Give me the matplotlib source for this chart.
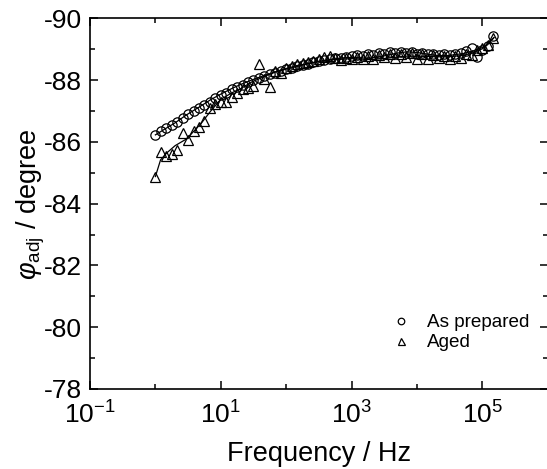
import matplotlib
matplotlib.use("Agg")
import matplotlib.pyplot as plt
from matplotlib.ticker import FixedLocator, NullFormatter

plt.rcParams['font.family'] = ['Liberation Sans', 'DejaVu Sans']
plt.rcParams['mathtext.fontset'] = 'custom'
plt.rcParams['mathtext.rm'] = 'Liberation Sans'
plt.rcParams['mathtext.it'] = 'Liberation Sans:italic'

# measured frequencies (Hz), same grid for both samples
freq = [1.00, 1.21, 1.47, 1.78, 2.15, 2.61, 3.16, 3.83, 4.64, 5.62, 6.81, 8.25,
        10.0, 12.1, 14.7, 17.8, 21.5, 26.1, 31.6, 38.3, 46.4, 56.2, 68.1, 82.5,
        100, 121, 147, 178, 215, 261, 316, 383, 464, 562, 681, 825,
        1000, 1210, 1470, 1780, 2150, 2610, 3160, 3830, 4640, 5620, 6810, 8250,
        10000, 12100, 14700, 17800, 21500, 26100, 31600, 38300, 46400, 56200, 68100, 82500,
        100000, 121000, 147000]

phi_prepared = [-86.23, -86.35, -86.45, -86.55, -86.66, -86.78, -86.90, -87.00, -87.10, -87.20, -87.30, -87.42,
                -87.52, -87.60, -87.70, -87.78, -87.86, -87.93, -88.00, -88.07, -88.13, -88.19, -88.25, -88.30,
                -88.35, -88.40, -88.45, -88.50, -88.54, -88.58, -88.62, -88.65, -88.68, -88.71, -88.73, -88.76,
                -88.78, -88.82, -88.80, -88.85, -88.82, -88.88, -88.86, -88.90, -88.88, -88.92, -88.88, -88.90,
                -88.86, -88.88, -88.84, -88.86, -88.82, -88.85, -88.83, -88.86, -88.88, -88.95, -89.04, -88.76,
                -88.98, -89.12, -89.42]

phi_aged = [-84.88, -85.69, -85.55, -85.62, -85.75, -86.28, -86.06, -86.35, -86.50, -86.68, -87.10, -87.22,
            -87.28, -87.30, -87.45, -87.58, -87.70, -87.75, -87.80, -88.53, -88.05, -87.79, -88.30, -88.25,
            -88.40, -88.46, -88.53, -88.57, -88.60, -88.63, -88.68, -88.74, -88.78, -88.72, -88.66, -88.72,
            -88.70, -88.76, -88.68, -88.80, -88.70, -88.82, -88.75, -88.85, -88.72, -88.86, -88.74, -88.88,
            -88.70, -88.84, -88.70, -88.82, -88.72, -88.80, -88.68, -88.78, -88.72, -88.85, -88.82, -88.98,
            -89.03, -89.14, -89.38]

# fitted curves
fit_freq_prep = [1, 1.5, 2, 3, 5, 7, 10, 15, 20, 30, 50, 70, 100, 150, 200, 300, 500, 700,
                 1000, 1500, 2000, 3000, 5000, 7000, 1e4, 1.5e4, 2e4, 3e4, 5e4, 7e4, 1e5, 1.2e5, 1.5e5]
fit_prep = [-86.23, -86.46, -86.62, -86.88, -87.17, -87.37, -87.55, -87.74, -87.86, -88.01, -88.18, -88.27,
            -88.36, -88.45, -88.52, -88.60, -88.68, -88.72, -88.74, -88.72, -88.72, -88.78, -88.88, -88.92,
            -88.90, -88.84, -88.80, -88.80, -88.86, -88.94, -89.06, -89.18, -89.38]

fit_freq_aged = [1, 1.2, 1.5, 2, 3, 5, 7, 10, 15, 20, 30, 50, 70, 100, 150, 200, 300, 500, 700,
                 1000, 1500, 2000, 3000, 5000, 7000, 1e4, 2e4, 3e4, 5e4, 7e4, 1e5, 1.2e5, 1.5e5]
fit_aged = [-84.88, -85.42, -85.65, -85.88, -86.10, -86.60, -87.00, -87.38, -87.60, -87.72, -87.95, -88.15,
            -88.28, -88.38, -88.48, -88.53, -88.60, -88.66, -88.68, -88.70, -88.68, -88.67, -88.70, -88.75,
            -88.78, -88.78, -88.76, -88.76, -88.80, -88.88, -89.02, -89.15, -89.38]

xticks = [0.1, 10, 1000, 1e5]
xticklabels = [r'$10^{-1}$', r'$10^{1}$', r'$10^{3}$', r'$10^{5}$']
xminor = [1, 100, 1e4, 1e6]
yticks = [-90, -88, -86, -84, -82, -80, -78]
yminor = [-89, -87, -85, -83, -81, -79]

fig = plt.figure(figsize=(5.47, 4.69), dpi=100)
ax = fig.add_axes([0.1645, 0.1706, 0.837, 0.790])

ax.plot(fit_freq_prep, fit_prep, color='black', lw=0.9, zorder=2)
ax.plot(fit_freq_aged, fit_aged, color='black', lw=0.9, zorder=2)
ax.plot(freq, phi_prepared, 'o', ms=6.7, mfc='none', mec='black', mew=0.9, label='As prepared', zorder=3)
ax.plot(freq, phi_aged, '^', ms=7.2, mfc='none', mec='black', mew=0.9, label='Aged', zorder=3)

ax.set_xscale('log')
ax.set_xlim(0.1, 1e6)
ax.set_ylim(-78, -90)

ax.xaxis.set_major_locator(FixedLocator(xticks))
ax.set_xticklabels(xticklabels)
ax.xaxis.set_minor_locator(FixedLocator(xminor))
ax.xaxis.set_minor_formatter(NullFormatter())
ax.set_yticks(yticks)
ax.set_yticklabels([str(v) for v in yticks])
ax.yaxis.set_minor_locator(FixedLocator(yminor))

ax.tick_params(which='both', direction='in', top=True, right=True, labelsize=19, width=1.1)
ax.tick_params(which='major', length=6)
ax.tick_params(axis='y', which='major', pad=6)
ax.tick_params(axis='x', which='major', pad=9)
ax.tick_params(which='minor', length=3.5)
for s in ax.spines.values():
    s.set_linewidth(1.2)

ax.set_xlabel('Frequency / Hz', fontsize=19.5)
ax.set_ylabel(r'$\varphi_{\mathrm{adj}}$ / degree', fontsize=19.5)
ax.xaxis.set_label_coords(0.5, -0.141)
ax.yaxis.set_label_coords(-0.094, 0.5)

ax.legend(loc='upper left', bbox_to_anchor=(391.5 / 547, 1 - 314 / 469), bbox_transform=fig.transFigure,
          frameon=False, fontsize=13.6, markerscale=0.7, handlelength=1.0, handletextpad=0.88,
          labelspacing=0.15, borderpad=0, borderaxespad=0)

fig.savefig('out.png', dpi=100)
